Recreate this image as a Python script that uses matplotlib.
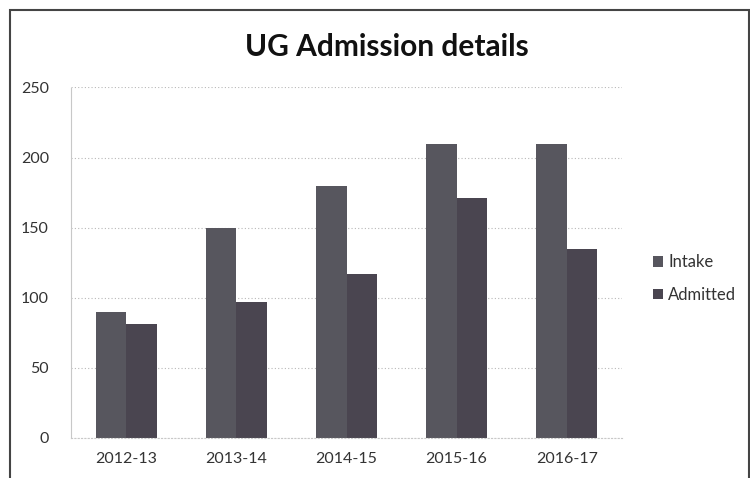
import numpy as np
import matplotlib
matplotlib.use('Agg')
import matplotlib.pyplot as plt
from matplotlib.patches import Rectangle

# Data
years = ['2012-13', '2013-14', '2014-15', '2015-16', '2016-17']
intake = [90, 150, 180, 210, 210]
admitted = [81, 97, 117, 171, 135]
y_ticks = [0, 50, 100, 150, 200, 250]

plt.rcParams['font.family'] = ['Lato', 'DejaVu Sans']

fig = plt.figure(figsize=(7.5, 4.78), dpi=100)
ax = fig.add_axes([0.095, 0.084, 0.734, 0.733])

x = np.arange(len(years))
w = 0.277
ax.bar(x - w / 2, intake, width=w, color='#57565e', label='Intake')
ax.bar(x + w / 2, admitted, width=w, color='#4a4550', label='Admitted')

ax.set_xlim(-0.5, len(years) - 0.5)
ax.set_ylim(0, 250)
ax.set_yticks(y_ticks)
ax.set_xticks(x)
ax.set_xticklabels(years)
ax.tick_params(axis='both', length=0, labelsize=11.5, colors='#333333')
ax.tick_params(axis='y', pad=16)
ax.tick_params(axis='x', pad=10)
ax.yaxis.grid(True, linestyle=(0, (1, 2)), color='#b8b8b8', linewidth=0.8)
ax.set_axisbelow(True)
for s in ['top', 'right']:
    ax.spines[s].set_visible(False)
ax.spines['left'].set_color('#c8c8c8')
ax.spines['left'].set_linestyle((0, (1, 1)))
ax.spines['bottom'].set_color('#c8c8c8')
ax.spines['bottom'].set_linestyle((0, (1, 2)))

fig.text(0.516, 0.902, 'UG Admission details', ha='center', va='center',
         fontsize=21.5, fontweight='bold', color='#111111')

ax.legend(loc='center left', bbox_to_anchor=(1.03, 0.455), frameon=False,
          fontsize=12, handlelength=0.6, handleheight=0.6, handletextpad=0.3,
          labelspacing=1.0, labelcolor='#333333')

# chart frame
fig.patches.append(Rectangle((0.013, -0.01), 0.985, 0.99, transform=fig.transFigure,
                             fill=False, edgecolor='#444444', linewidth=1.5))

fig.savefig('out.png', dpi=100)
